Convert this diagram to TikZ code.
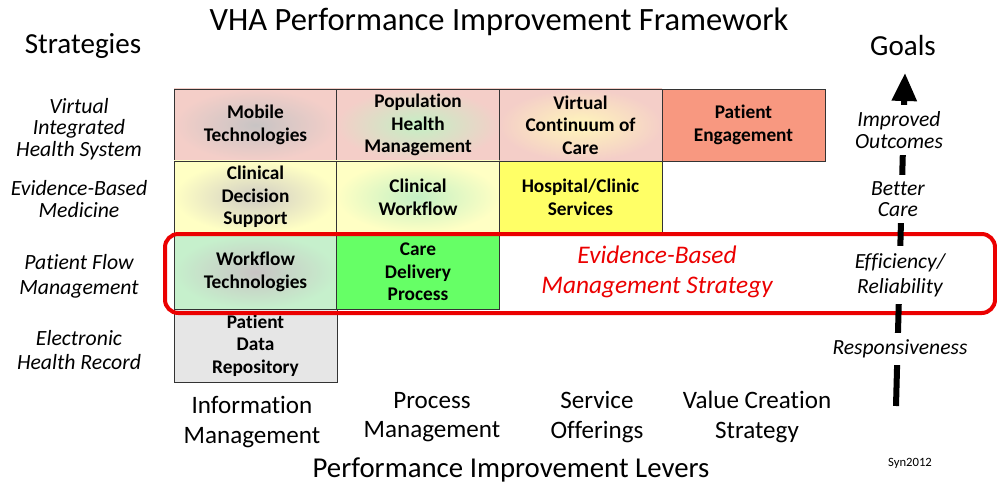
\documentclass[tikz,border=0pt]{standalone}
\usepackage{fontspec}
\setmainfont{Carlito}[Ligatures={TeX,NoCommon}]
\usetikzlibrary{arrows.meta}
\definecolor{rowpink}{RGB}{244,206,200}
\definecolor{paleyellow}{RGB}{255,255,196}
\definecolor{palegreen}{RGB}{198,240,204}
\definecolor{midgray}{RGB}{200,196,196}
\definecolor{softgreen}{RGB}{196,240,196}
\definecolor{softyellow}{RGB}{255,246,186}
\definecolor{salmon}{RGB}{248,152,128}
\definecolor{brightyellow}{RGB}{255,255,102}
\definecolor{brightgreen}{RGB}{102,255,102}
\definecolor{lightgray}{RGB}{230,230,230}
\definecolor{strategyred}{RGB}{235,0,0}
% font size and line spacing, both in pt
\newcommand{\fs}[2]{\fontsize{#1}{#2}\selectfont}
\tikzset{
  cell/.style={draw=black!80, line width=0.6pt, align=center, font=\fs{14.5}{17}\bfseries,
    inner sep=0pt, minimum width=163*0.75pt},
  rowlabel/.style={align=center, font=\fs{16.3}{16}\itshape},
  lever/.style={align=center, font=\fs{18.8}{22}},
  goal/.style={align=center, font=\fs{16.2}{16}\itshape, fill=white, inner xsep=2pt, inner ysep=5pt},
}
\begin{document}
\begin{tikzpicture}[x=0.75pt,y=-0.75pt]
\useasboundingbox (0,0) rectangle (997,485);

% titles
\node (title) at (499,22) {\fs{24.4}{28}VHA Performance Improvement Framework};
\node (strategies) at (83,46) {\fs{21.8}{26}Strategies};
\node (goals) at (903,46) {\fs{21.8}{26}Goals};

% strategy rows
\node[rowlabel] (r1) at (79,129) {Virtual\\Integrated\\Health System};
\node[rowlabel] (r2) at (79,199) {Evidence-Based\\Medicine};
\node[rowlabel] (r3) at (79,276) {Patient Flow\\[3pt]Management};
\node[rowlabel] (r4) at (79,350) {Electronic\\[2pt]Health Record};

% grid of initiatives
\begin{scope}[every node/.append style={minimum height=72*0.75pt}]
\node[cell, inner color=midgray, outer color=rowpink] (mobile) at (255.5,125) {Mobile\\Technologies};
\node[cell, inner color=softgreen, outer color=rowpink] (population) at (418,125) {Population\\Health\\Management};
\node[cell, inner color=softyellow, outer color=rowpink] (virtual) at (580.5,125) {Virtual\\Continuum of\\Care};
\node[cell, fill=salmon] (engagement) at (743.5,125) {Patient\\Engagement};
\node[cell, inner color=midgray!85!paleyellow, outer color=paleyellow] (decision) at (255.5,197) {Clinical\\Decision\\Support};
\node[cell, inner color=softgreen, outer color=paleyellow] (workflow) at (418,197) {Clinical\\Workflow};
\node[cell, fill=brightyellow] (hospital) at (580.5,197) {Hospital/Clinic\\Services};
\node[cell, inner color=midgray, outer color=palegreen, minimum height=74*0.75pt] (wftech) at (255.5,272) {Workflow\\Technologies};
\node[cell, fill=brightgreen, minimum height=74*0.75pt] (care) at (418,272) {Care\\Delivery\\Process};
\node[cell, fill=lightgray, minimum height=73*0.75pt] (repository) at (255.5,345.5) {Patient\\Data\\Repository};
\end{scope}

% evidence-based management band
\draw[strategyred, line width=3pt, rounded corners=10pt] (165,234) rectangle (995,313);
\node[align=center, text=strategyred, font=\fs{19}{22.5}\itshape] (ebms) at (657,272) {Evidence-Based\\Management Strategy};

% goals arrow
\coordinate (goalbase) at (896,406);
\coordinate (goaltip) at (905,73);
\draw[line width=4.5pt, -{Triangle[width=18pt,length=21pt]}] (goalbase) -- (goaltip);
\node[goal] (outcomes) at (899,130) {Improved\\Outcomes};
\node[goal] (bettercare) at (898,199) {Better\\Care};
\node[goal] (efficiency) at (900,275) {Efficiency/\\[3pt]Reliability};
\node[goal] (responsive) at (900,349) {Responsiveness};

% performance levers
\node[lever] (infomgmt) at (252,422) {Information\\Management};
\node[lever] (procmgmt) at (432,417) {Process\\Management};
\node[lever] (service) at (597,417) {Service\\Offerings};
\node[lever] (value) at (757,417) {Value Creation\\Strategy};
\node (levers) at (511,470) {\fs{21.6}{26}Performance Improvement Levers};
\node (syn) at (910,463) {\fs{9.5}{11}Syn2012};
\end{tikzpicture}
\end{document}
